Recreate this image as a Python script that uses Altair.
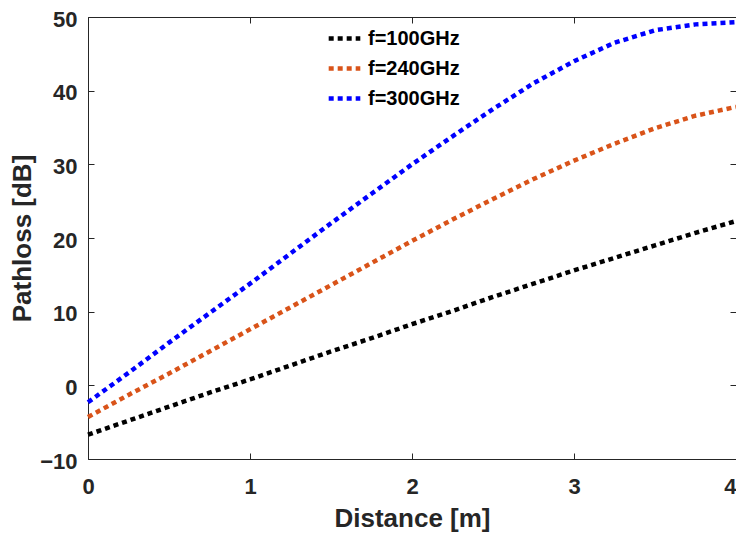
import altair as alt
import pandas as pd

distance = [0, 0.25, 0.5, 0.75, 1, 1.25, 1.5, 1.75, 2, 2.25, 2.5, 2.75, 3, 3.25, 3.5, 3.75, 4]
pl_100 = [-6.7, -4.8, -2.9, -1.0, 0.8, 2.7, 4.6, 6.4, 8.3, 10.1, 12.0, 13.8, 15.6, 17.3, 19.0, 20.7, 22.3]
pl_240 = [-4.3, -1.3, 1.6, 4.6, 7.6, 10.6, 13.6, 16.6, 19.6, 22.5, 25.3, 28.0, 30.5, 32.8, 34.9, 36.6, 37.8]
pl_300 = [-2.3, 1.7, 5.8, 9.8, 13.8, 17.9, 22.0, 26.0, 30.0, 33.8, 37.5, 41.0, 44.0, 46.5, 48.2, 49.0, 49.3]
series = ["f=100GHz", "f=240GHz", "f=300GHz"]
colors = ["#000000", "#D95319", "#0000FF"]
x_ticks = [0, 1, 2, 3, 4]
y_ticks = [-10, 0, 10, 20, 30, 40, 50]

rows = []
for name, vals in zip(series, [pl_100, pl_240, pl_300]):
    for d, v in zip(distance, vals):
        rows.append({"Distance": d, "Pathloss": v, "Series": name})
df = pd.DataFrame(rows)

FONT = "Liberation Sans"
xscale = alt.Scale(domain=[0, 4], nice=False, zero=False)
yscale = alt.Scale(domain=[-10, 50], nice=False, zero=False)

lines = alt.Chart(df).mark_line(strokeDash=[5, 4], strokeWidth=4.5, strokeCap="butt").encode(
    x=alt.X("Distance:Q", scale=xscale,
            axis=alt.Axis(title="Distance [m]", values=x_ticks, format="d",
                          domain=False, offset=-6, tickSize=6, tickColor="#262626",
                          labelFlush=False,
                          labelAlign=alt.ExprRef("datum.value === 4 ? 'right' : 'center'"),
                          labelPadding=17, titlePadding=8)),
    y=alt.Y("Pathloss:Q", scale=yscale,
            axis=alt.Axis(title="Pathloss [dB]", values=y_ticks, format="d",
                          domain=False, offset=-6, tickSize=6, tickColor="#262626",
                          labelFlush=False, labelOffset=2, labelPadding=11, titlePadding=4)),
    color=alt.Color("Series:N", scale=alt.Scale(domain=series, range=colors),
                    legend=alt.Legend(title=None, orient="none", legendX=238, legendY=3,
                                      symbolType="stroke", symbolStrokeWidth=4.5,
                                      symbolDash=[5, 4], symbolSize=1000,
                                      labelFont=FONT, labelFontSize=20, labelFontWeight="bold",
                                      labelColor="#000000", rowPadding=1, labelOffset=5)),
)

frame = alt.Chart(df).mark_line(opacity=0).encode(
    x=alt.X("Distance:Q", scale=xscale,
            axis=alt.Axis(orient="top", title=None, labels=False, values=x_ticks,
                          domain=False, offset=-6, tickSize=6, tickColor="#262626")),
    y=alt.Y("Pathloss:Q", scale=yscale,
            axis=alt.Axis(orient="right", title=None, labels=False, values=y_ticks,
                          domain=False, offset=-6, tickSize=6, tickColor="#262626")),
    detail="Series:N",
)

chart = alt.layer(lines, frame).resolve_axis(x="independent", y="independent").properties(
    width=648, height=442,
    autosize=alt.AutoSizeParams(type="none"),
    padding={"left": 80, "top": 9, "right": 0, "bottom": 76},
).configure_view(stroke="#262626", strokeWidth=1).configure_axis(
    grid=False, labelFont=FONT, labelFontSize=22, labelFontWeight="bold", labelColor="#262626",
    titleFont=FONT, titleFontSize=26, titleFontWeight="bold", titleColor="#262626",
)

chart.save("out.html", embed_options={"renderer": "svg", "actions": False})
